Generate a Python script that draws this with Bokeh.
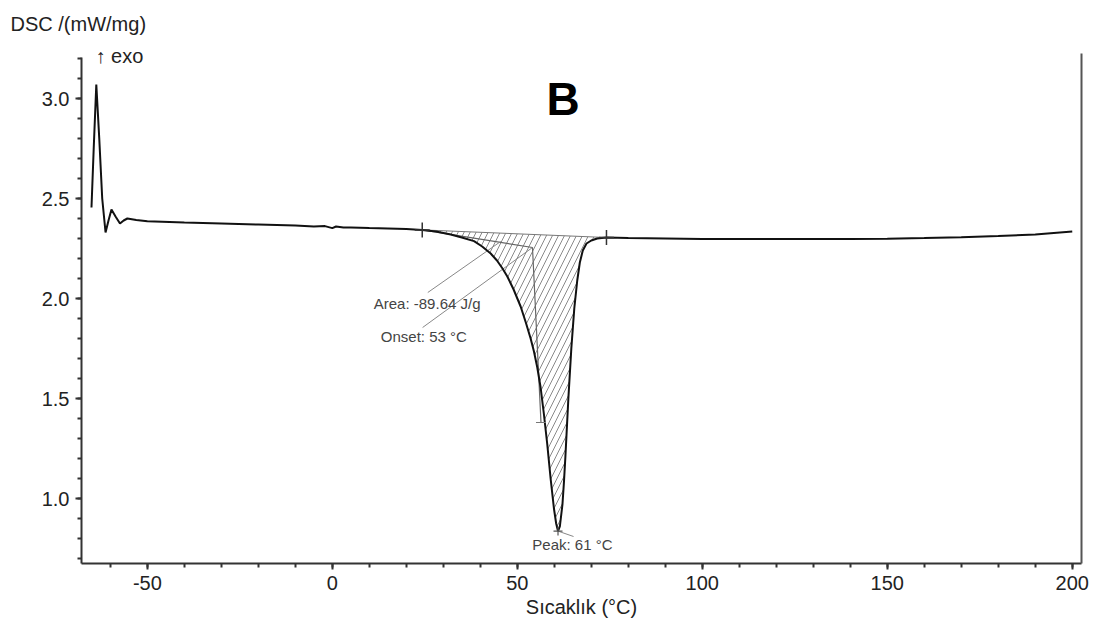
from bokeh.plotting import figure
from bokeh.models import (Range1d, LinearAxis, FixedTicker, PrintfTickFormatter,
                          Label, Title, SingleIntervalTicker)
from bokeh.embed import file_html
from bokeh.resources import INLINE

# ---- data ----
temp = [-65.1, -64.5, -63.8, -63.0, -62.2, -61.3, -60.5, -59.7, -58.6, -57.4, -56.4,
        -55.4, -53.0, -50.0, -40.0, -30.0, -20.0, -10.0, -5.0, -2.0, 0.0, 1.0, 3.0,
        5.0, 10.0, 15.0, 20.0, 24.3, 28.0, 32.0, 35.0, 38.3, 40.5, 42.8, 44.5, 46.0,
        47.3, 49.0, 50.9, 52.3, 53.6, 54.5, 55.4, 56.3, 57.2, 58.1, 59.0, 59.9, 60.5,
        61.0, 61.5, 62.2, 62.6, 63.0, 63.8, 64.6, 65.4, 66.2, 66.9, 67.7, 68.7, 70.0,
        71.6, 74.1, 80.0, 90.0, 100.0, 110.0, 120.0, 130.0, 140.0, 150.0, 160.0,
        170.0, 180.0, 190.0, 200.0]
dsc = [2.455, 2.75, 3.07, 2.80, 2.50, 2.33, 2.39, 2.445, 2.41, 2.375, 2.39,
       2.40, 2.393, 2.386, 2.38, 2.375, 2.37, 2.365, 2.36, 2.362, 2.352, 2.36, 2.355,
       2.355, 2.352, 2.35, 2.347, 2.343, 2.335, 2.32, 2.305, 2.287, 2.26, 2.225, 2.19, 2.15,
       2.11, 2.045, 1.96, 1.88, 1.80, 1.735, 1.655, 1.555, 1.42, 1.27, 1.10, 0.95, 0.875,
       0.837, 0.86, 0.97, 1.08, 1.21, 1.50, 1.75, 1.95, 2.09, 2.18, 2.24, 2.275, 2.29,
       2.30, 2.305, 2.302, 2.300, 2.298, 2.298, 2.297, 2.297, 2.298, 2.299, 2.302,
       2.306, 2.312, 2.32, 2.335]

x_ticks = [-50, 0, 50, 100, 150, 200]
y_ticks = [1.0, 1.5, 2.0, 2.5, 3.0]

# integration limits, onset construction and peak
limit_t = [24.3, 74.1]
limit_v = [2.343, 2.305]
onset_t = [24.3, 54.1, 56.4]
onset_v = [2.343, 2.255, 1.38]
peak_t, peak_v = 61.0, 0.837
area_leader_t = [25.8, 45.5]
area_leader_v = [2.03, 2.285]
onset_leader_t = [24.4, 54.1]
onset_leader_v = [1.855, 2.255]
peak_leader_t = [61.0, 65.2]
peak_leader_v = [0.837, 0.81]

FONT = "Liberation Sans"

p = figure(frame_width=1000, frame_height=517, output_backend="svg",
           toolbar_location=None, x_range=Range1d(-67.8, 202.5),
           y_range=Range1d(0.675, 3.26),
           min_border_left=81, min_border_right=17, min_border_top=46,
           min_border_bottom=58)
p.outline_line_color = None
p.grid.visible = False
p.background_fill_color = "white"

# axes
p.xaxis.ticker = SingleIntervalTicker(interval=50, num_minor_ticks=5)
p.yaxis.ticker = SingleIntervalTicker(interval=0.5, num_minor_ticks=5)
p.xaxis.formatter = PrintfTickFormatter(format="%d")
p.yaxis.formatter = PrintfTickFormatter(format="%.1f")
p.yaxis.bounds = (0.675, 3.205)
for ax in (p.xaxis[0], p.yaxis[0]):
    ax.axis_line_color = "#333333"
    ax.axis_line_width = 2
    ax.major_tick_line_color = "#333333"
    ax.minor_tick_line_color = "#333333"
    ax.major_tick_line_width = 2
    ax.minor_tick_line_width = 2
    ax.major_tick_out = 6
    ax.major_tick_in = 0
    ax.minor_tick_out = 4
    ax.minor_tick_in = 0
    ax.major_label_text_font = FONT
    ax.major_label_text_font_size = "20px"
    ax.major_label_text_color = "#222222"
    ax.major_label_standoff = 6
p.xaxis.axis_label = "Sıcaklık (°C)"
p.xaxis.axis_label_text_font = FONT
p.xaxis.axis_label_text_font_size = "20px"
p.xaxis.axis_label_text_font_style = "normal"
p.xaxis.axis_label_text_color = "#222222"
p.xaxis.axis_label_standoff = 3

right = LinearAxis(ticker=FixedTicker(ticks=[]), axis_line_color="#555555",
                   axis_line_width=2, major_tick_line_color=None,
                   minor_tick_line_color=None, major_label_text_font_size="0px",
                   bounds=(0.675, 3.225))
p.add_layout(right, "right")

# hatched area between baseline and curve
area_t = [t for t in temp if limit_t[0] <= t <= limit_t[1]]
area_v = [v for t, v in zip(temp, dsc) if limit_t[0] <= t <= limit_t[1]]
p.patch(area_t, area_v, fill_alpha=0, line_color=None,
        hatch_pattern="right_diagonal_line", hatch_color="#8a8a8a",
        hatch_weight=1, hatch_scale=12)

# construction lines
p.line(limit_t, limit_v, line_color="#777777", line_width=1)
p.line(onset_t, onset_v, line_color="#666666", line_width=1.2)
p.line(area_leader_t, area_leader_v, line_color="#888888", line_width=1)
p.line(onset_leader_t, onset_leader_v, line_color="#888888", line_width=1)
p.line(peak_leader_t, peak_leader_v, line_color="#888888", line_width=1)

# the DSC curve
p.line(temp, dsc, line_color="#111111", line_width=2)

# markers
p.scatter(limit_t, limit_v, marker="cross", size=15, line_color="#333333", line_width=1.5)
p.scatter([peak_t], [peak_v], marker="cross", size=9, line_color="#555555", line_width=1.2)
p.scatter([onset_t[2]], [onset_v[2]], marker="dash", size=10, line_color="#777777", line_width=1)

# texts
def lab(x, y, text, size, align="left", style="normal", color="#333333", font=FONT):
    p.add_layout(Label(x=x, y=y, text=text, text_font=font, text_font_size=size,
                       text_align=align, text_baseline="middle",
                       text_font_style=style, text_color=color))

lab(11.2, 1.975, "Area: -89.64 J/g", "15px", color="#444444")
lab(13.1, 1.81, "Onset: 53 °C", "15px", color="#444444")
lab(64.9, 0.77, "Peak: 61 °C", "15px", align="center", color="#444444")
lab(62.4, 3.0, "B", "46px", align="center", style="bold", color="#000000")
lab(-64.0, 3.213, "↑ exo", "20px", color="#222222")

p.add_layout(Title(text="DSC /(mW/mg)", align="left", offset=-71,
                   vertical_align="middle",
                   text_font=FONT, text_font_size="20px", text_font_style="normal",
                   text_color="#222222", standoff=22), "above")

open("out.html", "w").write(file_html(p, INLINE))
